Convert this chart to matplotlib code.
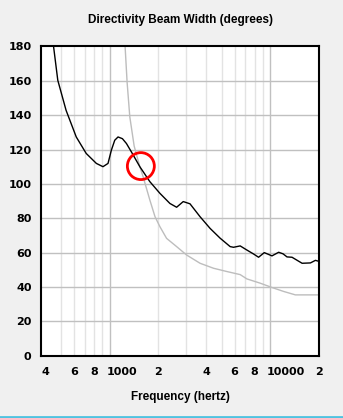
import matplotlib
matplotlib.use("Agg")
import matplotlib.pyplot as plt
import matplotlib.transforms as mtransforms
from matplotlib.patches import Ellipse

# Beam width of the driver (black) and the reference curve (gray)
black_freq = [447, 475, 535, 619, 714, 826, 908, 976, 1024, 1075, 1127, 1200, 1271,
              1365, 1540, 1778, 2054, 2371, 2610, 2870, 3162, 3652, 4217, 4870, 5623,
              5900, 6494, 7147, 7866, 8453, 9173, 10243, 11272, 12000, 12706, 13656,
              15775, 17783, 19100, 20100]
black_deg = [180, 160.3, 142.8, 127.3, 117.7, 111.9, 110, 111.9, 119.6, 125.4, 127.3,
             126.3, 123.5, 118.6, 110, 101.3, 94.5, 88.6, 86.4, 89.7, 88.4, 80.9, 74.1,
             68.4, 63.5, 63.1, 63.9, 61.5, 59.2, 57.3, 60.0, 58.1, 60.2, 59.3, 57.5,
             57.3, 53.8, 54.0, 55.5, 54.9]

gray_freq = [1247, 1283, 1334, 1420, 1540, 1615, 1778, 1915, 2054, 2260, 2610, 3013,
             3652, 4430, 5360, 6494, 7147, 8660, 10243, 12106, 14330, 20100]
gray_deg = [180, 159.3, 139, 122, 110, 104.1, 90.6, 80.9, 75.1, 68.3, 63.5, 58.6,
            53.8, 50.9, 49, 47.2, 44.7, 42.2, 39.7, 37.4, 35.4, 35.4]

x_ticks = [400, 600, 800, 1000, 2000, 4000, 6000, 8000, 10000, 20000]
x_labels = ["4", "6", "8", "1000", "2", "4", "6", "8", "10000", "2"]
y_ticks = [0, 20, 40, 60, 80, 100, 120, 140, 160, 180]
minor_grid = [500, 600, 700, 800, 900, 2000, 3000, 4000, 5000, 6000, 7000, 8000, 9000]
major_grid = [1000, 10000]

bg = "#f0f0f0"
fig = plt.figure(figsize=(3.43, 4.18), dpi=100, facecolor=bg)
ax = fig.add_axes([0.1204, 0.149, 0.8096, 0.740])
ax.set_xscale("log")
ax.set_xlim(375, 20100)
ax.set_ylim(0, 180)

ax.vlines(minor_grid, 0, 180, colors="#e3e3e3", linewidth=1, zorder=1)
ax.vlines(major_grid, 0, 180, colors="#c0c0c0", linewidth=1, zorder=1)
ax.hlines(y_ticks[1:-1], 375, 20100, colors="#c0c0c0", linewidth=1, zorder=1)

ax.plot(gray_freq, gray_deg, color="#bdbdbd", linewidth=1, zorder=2)
ax.plot(black_freq, black_deg, color="black", linewidth=1, zorder=3)

# red marker circle around the crossover
circ = Ellipse((0.3585, 0.613), width=27 / 278, height=27 / 310, transform=ax.transAxes,
               fill=False, edgecolor="#ff0000", linewidth=2, zorder=4)
ax.add_patch(circ)

ax.set_xticks(x_ticks, x_labels)
ax.set_xticks([], minor=True)
ax.set_yticks(y_ticks)
ax.tick_params(length=0, labelsize=8)
ax.tick_params(axis="x", pad=8)
ax.tick_params(axis="y", pad=7)
shift = mtransforms.ScaledTranslation(-3.5 / 100, 0, fig.dpi_scale_trans)
for lab in ax.get_xticklabels():
    lab.set_fontweight("bold")
    if len(lab.get_text()) > 1:
        # long labels start at the grid line instead of centring on it
        lab.set_horizontalalignment("left")
        lab.set_transform(lab.get_transform() + shift)
for lab in ax.get_yticklabels():
    lab.set_fontweight("bold")
for sp in ax.spines.values():
    sp.set_linewidth(1.5)

ax.set_xlabel("Frequency (hertz)", fontsize=8.5, fontweight="bold", labelpad=10,
              family="Liberation Sans")
fig.text(0.525, 0.952, "Directivity Beam Width (degrees)", fontsize=8.5,
         fontweight="bold", ha="center", va="center", family="Liberation Sans")

# window edge at the bottom
fig.add_artist(plt.Line2D([0, 1], [0.002, 0.002], color="#4fc3e0", linewidth=2))

fig.savefig("out.png", dpi=100, facecolor=bg)
